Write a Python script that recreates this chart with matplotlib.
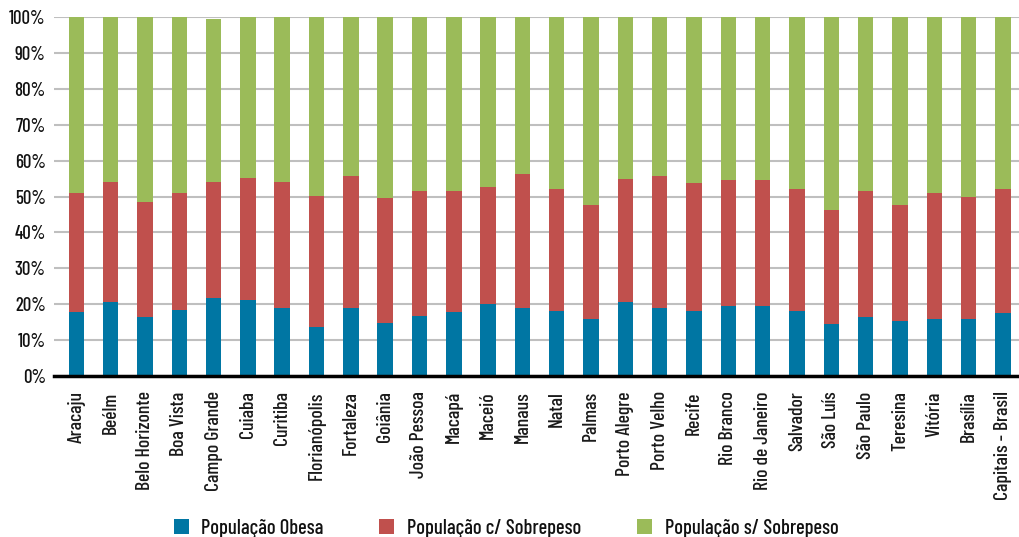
import matplotlib
matplotlib.use("Agg")
import matplotlib.pyplot as plt
import numpy as np
from matplotlib import font_manager
from matplotlib.ticker import FuncFormatter

cidades = ["Aracaju", "Beélm", "Belo Horizonte", "Boa Vista", "Campo Grande", "Cuiaba",
           "Curitiba", "Florianópolis", "Fortaleza", "Goiânia", "João Pessoa", "Macapá",
           "Maceió", "Manaus", "Natal", "Palmas", "Porto Alegre", "Porto Velho", "Recife",
           "Rio Branco", "Rio de Janeiro", "Salvador", "São Luís", "São Paulo", "Teresina",
           "Vitória", "Brasília", "Capitais - Brasil"]

obesa = [17.8, 20.6, 16.4, 18.4, 21.7, 21.2, 18.9, 13.6, 18.9, 14.8, 16.8, 17.8,
         20.1, 18.9, 18.1, 15.9, 20.6, 18.9, 18.1, 19.6, 19.6, 18.1, 14.6, 16.4,
         15.3, 15.9, 15.9, 17.5]
sobrepeso = [33.2, 33.4, 32.1, 32.6, 32.3, 34.0, 35.1, 36.5, 36.8, 34.8, 34.7, 33.7,
             32.5, 37.4, 34.0, 31.7, 34.3, 36.8, 35.7, 35.0, 35.0, 34.0, 31.6, 35.1,
             32.3, 35.1, 34.0, 34.6]
sem_sobrepeso = [49.0, 46.0, 51.5, 49.0, 45.5, 44.8, 46.0, 49.9, 44.3, 50.4, 48.5, 48.5,
                 47.4, 43.7, 47.9, 52.4, 45.1, 44.3, 46.2, 45.4, 45.4, 47.9, 53.8, 48.5,
                 52.4, 49.0, 50.1, 47.9]

series_nomes = ["População Obesa", "População c/ Sobrepeso", "População s/ Sobrepeso"]
cores = ["#0076A3", "#C0504D", "#9BBB59"]

available = set(f.name for f in font_manager.fontManager.ttflist)
chosen = "DejaVu Sans"
for cand in ["Barlow Condensed", "Archivo Narrow", "Roboto Condensed", "Saira ExtraCondensed"]:
    if cand in available:
        chosen = cand
        break
plt.rcParams['font.family'] = [chosen, 'DejaVu Sans']
plt.rcParams['font.weight'] = 500
plt.rcParams['text.color'] = '#111111'

fig = plt.figure(figsize=(10.19, 5.37), dpi=100)
ax = fig.add_axes([54/1019, 161/537, 1 - 54/1019, (376-17)/537])

x = np.arange(len(cidades))
w = 0.45
b1 = ax.bar(x, obesa, w, color=cores[0], label=series_nomes[0], zorder=3)
bottom2 = np.array(obesa)
b2 = ax.bar(x, sobrepeso, w, bottom=bottom2, color=cores[1], label=series_nomes[1], zorder=3)
bottom3 = bottom2 + np.array(sobrepeso)
b3 = ax.bar(x, sem_sobrepeso, w, bottom=bottom3, color=cores[2], label=series_nomes[2], zorder=3)

ax.set_ylim(0, 100)
ax.set_xlim(-0.65, len(cidades) - 1 + 0.47)
ax.set_yticks(np.arange(0, 101, 10))
ax.yaxis.set_major_formatter(FuncFormatter(lambda v, p: f"{int(v)}%"))
ax.grid(axis='y', color='#BFBFBF', linewidth=1.5, zorder=0)
ax.set_axisbelow(True)
for s in ['top', 'right', 'left']:
    ax.spines[s].set_visible(False)
ax.spines['bottom'].set_linewidth(2.5)
ax.spines['bottom'].set_color('black')
ax.spines['bottom'].set_zorder(4)

ax.set_xticks(x)
ax.set_xticklabels(cidades, rotation=90, fontsize=14.2, color='#1a1a1a')
ax.tick_params(axis='x', length=0, pad=11)
ax.tick_params(axis='y', length=0, pad=6, labelsize=13.5, labelcolor='#111111')

fig.legend(handles=[b1, b2, b3], labels=series_nomes, loc='center', ncol=3,
           bbox_to_anchor=(506/1019, 1 - 528/537), frameon=False, fontsize=14.8,
           handlelength=0.73, handleheight=0.73, handletextpad=0.62, columnspacing=2.7)

fig.savefig("out.png", dpi=100)
